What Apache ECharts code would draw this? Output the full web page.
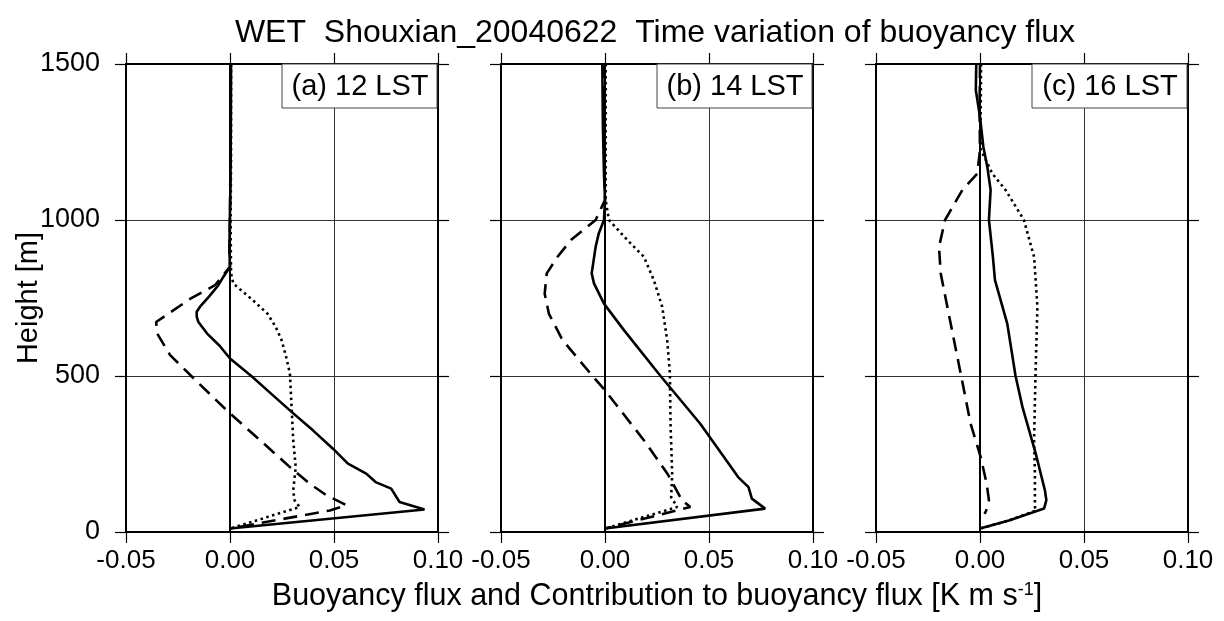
<!DOCTYPE html>
<html><head><meta charset="utf-8">
<script src="https://cdn.jsdelivr.net/npm/echarts@6/dist/echarts.min.js"></script>
<style>html,body{margin:0;padding:0;background:#fff}#c{width:1224px;height:621px}</style>
</head><body><div id="c"></div>
<script>
// ---- data: [flux (K m s-1), height (m)] ----
const xTicks = [-0.05, 0.00, 0.05, 0.10];
const yTicks = [0, 500, 1000, 1500];
const panelLabels = ['(a) 12 LST', '(b) 14 LST', '(c) 16 LST'];

const solid12 = [[0.0005,1500],[0.0004,1300],[0.0002,1100],[-0.0001,1000],[-0.0003,900],[0,850],[-0.003,820],[-0.0056,791],[-0.0100,755],[-0.0144,722],[-0.0160,706],[-0.0160,690],[-0.0152,673],[-0.011,636],[-0.005,597],[0,556],[0.0104,499],[0.0200,442],[0.0296,385],[0.0400,325],[0.0495,267],[0.0567,219],[0.0655,187],[0.0700,160],[0.0775,139],[0.0800,112],[0.0815,96],[0.0935,72],[0,11]];
const dashed12 = [[0.0003,1500],[0.0002,1200],[0,1000],[-0.0002,900],[0,850],[-0.0072,791],[-0.019,748],[-0.0355,673],[-0.035,636],[-0.0288,567],[-0.0145,473],[0,380],[0.0145,294],[0.0288,208],[0.0383,155],[0.0463,118],[0.056,86],[0.048,69],[0,11]];
const dotted12 = [[0.0005,1500],[0.0005,1200],[0.0003,1000],[0.0004,900],[0.0005,829],[0.0016,796],[0.011,743],[0.018,700],[0.022,657],[0.0248,615],[0.027,561],[0.0288,508],[0.0296,401],[0.0304,294],[0.0316,208],[0.0304,134],[0.031,102],[0.0335,80],[0,11]];

const solid14 = [[-0.0013,1500],[-0.001,1300],[-0.0005,1150],[0,1064],[-0.0005,1000],[-0.003,957],[-0.0045,914],[-0.0064,829],[-0.0053,797],[-0.0005,732],[0.0091,647],[0.0267,500],[0.0458,347],[0.060,214],[0.064,176],[0.069,144],[0.0706,107],[0.077,75],[0,11]];
const dashed14 = [[-0.0003,1500],[-0.0003,1200],[0,1064],[-0.0045,1000],[-0.0164,936],[-0.0228,882],[-0.028,829],[-0.029,764],[-0.027,700],[-0.0204,615],[-0.006,500],[0,454],[0.0187,294],[0.030,187],[0.037,102],[0.041,80],[0,11]];
const dotted14 = [[0.0003,1500],[0.0003,1200],[0.0003,1064],[0.0019,1000],[0.0107,936],[0.0187,882],[0.0235,807],[0.0275,722],[0.0299,615],[0.0312,508],[0.0315,347],[0.0323,187],[0.0318,112],[0.0347,80],[0,11]];

const solid16 = [[-0.0018,1500],[-0.002,1416],[0,1331],[0.0016,1235],[0.0035,1171],[0.0051,1096],[0.0043,1000],[0.0062,882],[0.0072,807],[0.0131,668],[0.0171,500],[0.0204,401],[0.0268,251],[0.0312,134],[0.0319,102],[0.0308,75],[0.0139,37],[0,11]];
const dashed16 = [[0,1500],[-0.0002,1350],[0,1224],[-0.0013,1149],[-0.0085,1096],[-0.0168,1000],[-0.0197,914],[-0.0189,829],[-0.0141,668],[-0.0093,508],[-0.0045,347],[0.0003,241],[0.0032,155],[0.0043,102],[0.003,69],[0.0022,58]];
const dotted16 = [[0.0005,1500],[0.0003,1300],[0.0005,1224],[0.0059,1149],[0.0123,1096],[0.0211,1000],[0.026,882],[0.0276,722],[0.0267,508],[0.026,294],[0.0264,187],[0.0264,80],[0.027,69],[0.0139,37],[0,11]];

const panels = [[solid12, dashed12, dotted12], [solid14, dashed14, dotted14], [solid16, dashed16, dotted16]];

// ---- layout/style ----
const FONT = '"Liberation Sans", Arial, Helvetica, sans-serif';
const gridLefts = [126, 501, 876];
const GT = 64, GW = 312, GH = 468;

const grids = gridLefts.map(l => ({left: l, top: GT, width: GW, height: GH}));
const fmt = v => (Math.abs(v) < 1e-9 ? 0 : v).toFixed(2);
const xAxes = [], yAxes = [], series = [];
const axLine = {onZero: false, lineStyle: {color: '#000', width: 2}};
const tick = {inside: false, length: 11, lineStyle: {color: '#000', width: 1.2}};
const split = {show: true, lineStyle: {color: '#333', width: 1}};

panels.forEach((p, i) => {
  xAxes.push({type: 'value', gridIndex: i, position: 'bottom', min: xTicks[0], max: xTicks[xTicks.length-1], interval: 0.05,
    axisLine: axLine, axisTick: tick, splitLine: split,
    axisLabel: {color: '#000', fontFamily: FONT, fontSize: 26, margin: 16, formatter: fmt}});
  xAxes.push({type: 'value', gridIndex: i, position: 'top', min: xTicks[0], max: xTicks[xTicks.length-1], interval: 0.05,
    axisLine: axLine, axisTick: tick, splitLine: {show: false}, axisLabel: {show: false}});
  yAxes.push({type: 'value', gridIndex: i, position: 'left', min: yTicks[0], max: yTicks[yTicks.length-1], interval: 500,
    axisLine: axLine, axisTick: tick, splitLine: split,
    axisLabel: {show: i === 0, color: '#000', fontFamily: FONT, fontSize: 27, margin: 26, formatter: v => String(v)}});
  yAxes.push({type: 'value', gridIndex: i, position: 'right', min: yTicks[0], max: yTicks[yTicks.length-1], interval: 500,
    axisLine: axLine, axisTick: tick, splitLine: {show: false}, axisLabel: {show: false}});
  const styles = [
    {type: 'solid', width: 2.6},
    {type: [14, 8], width: 2.6},
    {type: [2.5, 3.5], width: 2.6}
  ];
  p.forEach((d, k) => {
    const s = {type: 'line', xAxisIndex: 2*i, yAxisIndex: 2*i, data: d, showSymbol: false, symbol: 'none',
      lineStyle: Object.assign({color: '#000'}, styles[k]), z: 5 - k, animation: false};
    if (k === 0) {
      s.markLine = {silent: true, symbol: 'none', label: {show: false}, animation: false,
        lineStyle: {color: '#000', width: 2, type: 'solid'}, data: [{xAxis: 0}]};
    }
    series.push(s);
  });
});

const graphic = [
  {type: 'text', x: 655, y: 33, style: {text: 'WET  Shouxian_20040622  Time variation of buoyancy flux',
    font: '32px ' + FONT, fill: '#000', textAlign: 'center', textVerticalAlign: 'middle'}},
  {type: 'text', x: 29, y: 298, rotation: Math.PI/2, style: {text: 'Height [m]',
    font: '29px ' + FONT, fill: '#000', textAlign: 'center', textVerticalAlign: 'middle'}},
  {type: 'text', x: 657, y: 597, style: {text: 'Buoyancy flux and Contribution to buoyancy flux [K m s{sup|-1}]',
    font: '30.5px ' + FONT, fill: '#000', textAlign: 'center', textVerticalAlign: 'middle',
    rich: {sup: {fontSize: 18, fontFamily: FONT, verticalAlign: 'top', padding: [0,0,12,0]}}}}
];
panelLabels.forEach((t, i) => {
  const right = gridLefts[i] + GW;
  graphic.push({type: 'rect', shape: {x: right - 156, y: GT, width: 155, height: 44},
    style: {fill: '#fff', stroke: '#444', lineWidth: 1}, z: 50});
  graphic.push({type: 'text', x: right - 78, y: GT + 23, z: 51, style: {text: t, font: '29px ' + FONT, fill: '#000',
    textAlign: 'center', textVerticalAlign: 'middle'}});
});

const chart = echarts.init(document.getElementById('c'), null, {renderer: 'canvas'});
chart.setOption({animation: false, backgroundColor: '#fff', grid: grids, xAxis: xAxes, yAxis: yAxes, series, graphic});
</script></body></html>
